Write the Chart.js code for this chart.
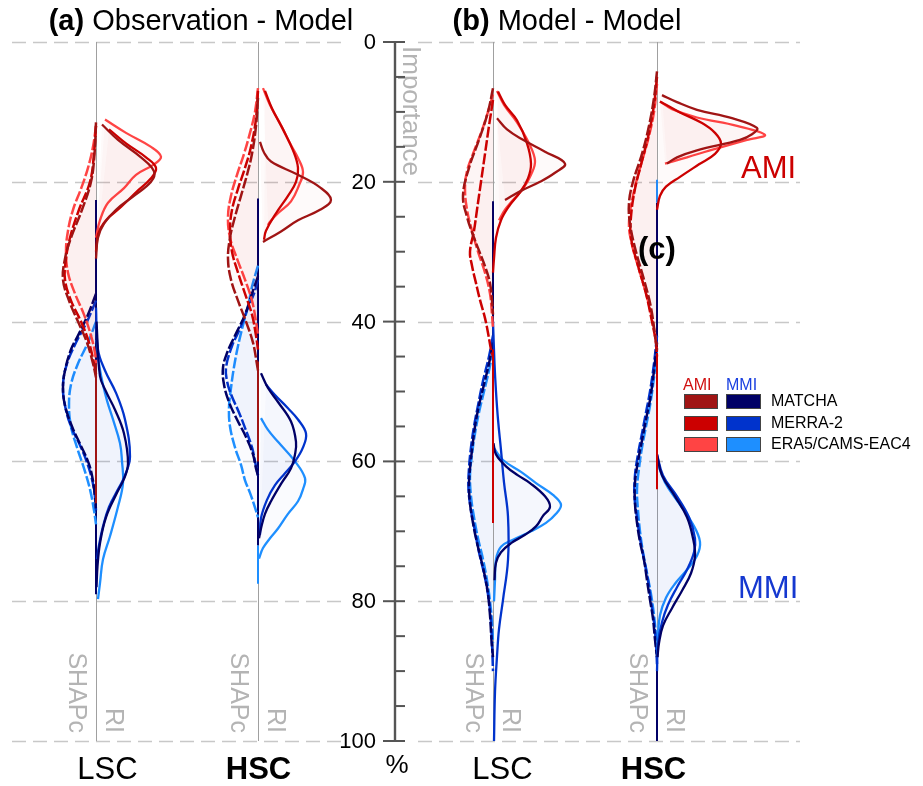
<!DOCTYPE html>
<html><head><meta charset="utf-8">
<script src="https://cdn.jsdelivr.net/npm/chart.js@4.4.1/dist/chart.umd.min.js"></script>
<style>html,body{margin:0;padding:0;background:#fff}#wrap{width:923px;height:786px;position:relative}</style>
</head><body><div id="wrap"><canvas id="c"></canvas></div>
<script>
// ---------------- data ----------------
const models = ['MATCHA', 'MERRA-2', 'ERA5/CAMS-EAC4'];
const columnLabels = ['LSC', 'HSC', 'LSC', 'HSC'];
const columnBold = [false, true, false, true];
const columnX = [96, 258, 493, 657];
const yTicks = [0, 20, 40, 60, 80, 100];
const yMinorTicks = [5,10,15,25,30,35,45,50,55,65,70,75,85,90,95];

// curves: [importance %, half-width] for MATCHA, MERRA-2, ERA5/CAMS-EAC4
const aLSC_AMI_RI = [
  [[11.8,6],[14,22],[16.5,45],[18.5,58],[20,55],[22,38],[24,20],[26,8],[28,2],[31,0]],
  [[12.5,13],[14.5,30],[16.5,50],[18,60],[19.5,55],[21.5,40],[23.6,25],[25.5,10],[27.5,2],[30,0]],
  [[11.1,9],[13,30],[15,55],[16.4,65],[17.5,58],[19,40],[20.9,28],[23,12],[25.5,4],[28,0]]
];
const aLSC_AMI_SHAPc = [
  [[11.5,0],[16,1.5],[20,5],[24,14],[28,25],[31,31],[34,33],[37,27],[40,18],[43,9],[46,3],[48,0]],
  [[12,0],[16,2],[20,6],[24,17],[28,26],[31,30],[34,31],[37,25],[40,15],[43,7],[46,2],[47.5,0]],
  [[12,0],[15,3],[18,8],[21,15],[24,23],[27,28],[30,30],[33,28],[36,21],[39,12],[42,5],[44.5,1],[46,0]]
];
const aLSC_MMI_SHAPc = [
  [[36,0],[39,8],[42,18],[44,25],[47,31],[49.5,33],[52,31],[55,24],[57.5,16],[60,8],[62,4],[65,1],[67,0]],
  [[37,0],[40,9],[43,20],[46,29],[49,33],[52,31],[55,25],[58,15],[61,7],[64,2],[67,0]],
  [[40,0],[43,8],[46,18],[49,25],[52,27],[55,25],[58,19],[61,12],[64,6],[67,2],[69,0]]
];
const aLSC_MMI_RI = [
  [[40,0.5],[47.8,4],[50,10],[52.6,19],[56,28],[60.3,32],[62.5,28],[64.5,21],[68,10],[71.7,4],[75,1.5],[78,0.5]],
  [[38,0],[44,2],[47,9],[50.2,20],[54,29],[59.3,34],[62,29],[64,22],[66.5,13],[69.3,7],[72,3],[74,1]],
  [[42.6,0.7],[46,3],[49,7],[51.3,11],[54,17],[57.4,24],[60,26],[63.1,27],[66.5,22],[70.7,14],[74,7],[77.4,4],[79.7,2]]
];
const aHSC_AMI_RI = [
  [[14.3,2],[15.8,6],[17.1,13],[19,40],[20.8,62],[22.6,73],[24,62],[25.5,40],[27.1,23],[28.6,5]],
  [[7,7],[9.5,14],[12.5,25],[15.5,35],[18,40],[20,38],[22,30],[24.5,18],[27,8],[28.3,6]],
  [[6.6,5],[9,12],[11.9,23],[14.5,32],[16.6,40],[18.6,45],[20.5,41],[22.8,33],[24.5,20],[25.7,12],[26.2,10]]
];
const aHSC_AMI_SHAPc = [
  [[8,0],[12,2],[16,6],[19,11],[22,17],[25,23],[28,28],[31,30],[34,27],[37,20],[40,12],[43,5],[45.7,1.5],[47,0]],
  [[7,0],[11,2],[15,7],[18,13],[21,20],[24,26],[27,28],[30,26],[33,20],[36,13],[39,6],[42,2],[44,0]],
  [[6.6,0],[10,3],[13,8],[16,14],[19,21],[22,27],[25,30],[28,28],[31,21],[34,13],[37,6],[40,2],[42,0]]
];
const aHSC_MMI_SHAPc = [
  [[33.5,0],[36,6],[39,13],[42,23],[44.5,31],[46.6,35],[49,34],[51.5,29],[54,21],[56.5,12],[59,5],[61,2],[62,0]],
  [[34,0],[36,4],[38,10],[41,18],[43.5,26],[46.6,32],[48.5,31],[50.4,27],[53,19],[55.2,13],[58,6],[60,3],[62,0]],
  [[32,0],[35,6],[37.8,10],[40.5,15],[43.5,20],[46.5,24],[49.5,27],[52.3,29],[55,28],[58,23],[60.5,17],[62.7,13],[64.5,8],[66.6,3],[68,0]]
];
const aHSC_MMI_RI = [
  [[47.4,3],[49.5,10],[51.5,20],[54.3,33],[57.2,38],[59,37],[61,33],[63,24],[65.7,13],[67.5,7],[69.6,3],[71,1]],
  [[49,8],[50.5,17],[52.4,30],[54,40],[56,48],[58,45],[60,37],[61.7,27],[63.4,17],[65.5,9],[68.1,3],[70.5,2]],
  [[53.8,3],[55.5,10],[57.2,20],[60,37],[62.4,47],[64,45],[65.7,40],[67.5,30],[69.6,20],[71,12],[72.4,5],[73.9,1]]
];
const bLSC_AMI_RI = [
  [[10.9,4],[12.5,14],[14,30],[15.7,52],[17.4,72],[18.7,62],[20,47],[21.3,28],[22.6,12]],
  [[7.1,5],[9,12],[11.2,24],[14.5,34],[17.4,38],[19.5,35],[21.5,27],[23.5,16],[25.5,8],[28,3],[31,1],[33,0]],
  [[7,4],[9,11],[11.5,24],[14.5,36],[17,42],[19,38],[21,30],[22.6,20],[24,12],[25.5,6]]
];
const bLSC_AMI_SHAPc = [
  [[6.6,0],[10,5],[14,14],[18,24],[22,30],[25,26],[28,19],[30.2,13],[32.5,7],[34.5,3],[37,1],[39,0]],
  [[8.3,0],[12,4],[16,8],[20,12],[24,16],[27,19],[30,23],[32,21],[34.5,17],[36.9,13],[39.5,8],[42,4.5],[44,2],[45,0]],
  [[7.5,0],[10,5],[13,12],[16,20],[18.5,26],[21,28],[24,26],[27,21],[30,15],[33,8],[36,3],[39,1],[41,0]]
];
const bLSC_MMI_SHAPc = [
  [[43,0],[46,4],[49,9],[52,14],[55,18],[58.4,21],[61,23],[63.5,24],[66,23],[68,21],[71,17],[74,12],[76.5,8],[79,5],[82,3],[85.6,1.5],[88,0]],
  [[42,0],[45,4],[48.5,10],[52,15],[55,19],[58,22],[61,24],[64,24.5],[67,22],[70,18],[73,14],[76,9],[79,5],[82,2.5],[86,1],[90,0]],
  [[44,0],[47,4],[50,9],[53,14],[56,18],[59,21],[62,23],[65,22],[68,19],[71,15],[74,10],[77,6],[80,3],[83,1],[86,0]]
];
const bLSC_MMI_RI = [
  [[57.4,0.5],[59,3],[60.7,13],[62,25],[63.1,37],[65,52],[66.5,57],[67.8,50],[69.3,43],[70.5,32],[71.7,18],[73,8],[74.5,3],[77,1.5]],
  [[40,0],[46,1.5],[50,3],[54,5],[58.4,8],[63,11],[67.9,15],[74.1,15],[79.8,10],[84,6],[87.9,4],[93,2],[100,1]],
  [[58,0.5],[59.8,10],[61.5,28],[63.1,43],[64.8,60],[66.2,68],[67.5,63],[68.8,53],[70,38],[71.2,20],[72.2,8],[74,3],[77,2],[80,1]]
];
const bHSC_AMI_RI = [
  [[7.6,5],[8.6,20],[9.7,40],[10.9,75],[12.3,100],[13.2,95],[14,83],[15.5,40],[16.5,20],[17.4,10]],
  [[8.5,3],[10,22],[11.6,45],[13,58],[14.5,64],[16,58],[17.5,42],[19.3,23],[20.7,9],[22,3],[24,0]],
  [[8.5,3],[9.6,15],[10.8,40],[12,80],[13.3,108],[14,90],[15.5,53],[16.5,30],[17.4,8]]
];
const bHSC_AMI_SHAPc = [
  [[4.2,0],[8,3],[12,8],[16,15],[20,24],[23,28],[26,27],[30,21],[34,13],[38,6],[42,2],[44,0]],
  [[5,0],[9,3],[13,8],[17,15],[21,22],[25,26],[28,26],[32,19],[36,11],[40,5],[43,1],[45,0]],
  [[6,0],[10,3],[14,9],[18,17],[22,24],[26,28],[29,25],[33,17],[37,9],[41,3],[44,0]]
];
const bHSC_MMI_SHAPc = [
  [[43,0],[47,3],[51.2,7],[54,11],[57,15],[60,19],[63,22],[66,22],[68.8,20],[71.5,17],[74.1,13],[77,10],[79.8,7],[82.5,4],[85.5,2],[88,0]],
  [[42,0],[46,3],[50,7],[53,11],[56,15],[59,19],[62,22],[65,22.5],[68,20],[71,17],[74,13],[77,9],[80,6],[83,3],[86,1],[89,0]],
  [[44,0],[48,3],[52,7],[55,11],[58,15],[61,18],[64,20],[67,19],[70,17],[73,14],[76,10],[79,6],[82,3],[85,1],[87,0]]
];
const bHSC_MMI_RI = [
  [[59,0],[62,5],[65,18],[68,30],[71,36],[73.5,38],[76,34],[78.5,25],[81,15],[83.5,6],[86,2],[88,0.5]],
  [[59,0],[62,6],[65,20],[68,32],[71,38],[73,37],[75.5,30],[78,20],[80.5,11],[83,5],[86,1],[90,0]],
  [[60,0],[63,8],[66,22],[69,36],[71.5,43],[73.5,40],[75.5,30],[77.5,18],[79.5,9],[82,3],[85,1],[88,0]]
];
// thin stems along the column axis: [column, class, model, from %, to %]
const stems = [
  [0,'MMI',0,22.6,79],[0,'AMI',0,46,66],
  [1,'MMI',0,22.4,72],[1,'MMI',2,72,77.5],[1,'AMI',0,45.7,60],
  [2,'MMI',0,22.8,58],[2,'AMI',1,44,68.8],
  [3,'MMI',2,19.7,23],[3,'MMI',0,23,44],[3,'AMI',1,44.5,64],[3,'MMI',0,86,100]
];

// ---------------- styling ----------------
const colors = {
  AMI: ['#A01414', '#CC0000', '#FF4444'],
  MMI: ['#000066', '#0033CC', '#1E8FFF']
};
const fills = { AMI: 'rgba(215,40,40,0.022)', MMI: 'rgba(40,70,210,0.022)' };
const FONT = "'Liberation Sans', Arial, Helvetica, sans-serif";

const violins = [
  [0,'AMI','RI',aLSC_AMI_RI],[0,'AMI','SHAPc',aLSC_AMI_SHAPc],[0,'MMI','RI',aLSC_MMI_RI],[0,'MMI','SHAPc',aLSC_MMI_SHAPc],
  [1,'AMI','RI',aHSC_AMI_RI],[1,'AMI','SHAPc',aHSC_AMI_SHAPc],[1,'MMI','RI',aHSC_MMI_RI],[1,'MMI','SHAPc',aHSC_MMI_SHAPc],
  [2,'AMI','RI',bLSC_AMI_RI],[2,'AMI','SHAPc',bLSC_AMI_SHAPc],[2,'MMI','RI',bLSC_MMI_RI],[2,'MMI','SHAPc',bLSC_MMI_SHAPc],
  [3,'AMI','RI',bHSC_AMI_RI],[3,'AMI','SHAPc',bHSC_AMI_SHAPc],[3,'MMI','RI',bHSC_MMI_RI],[3,'MMI','SHAPc',bHSC_MMI_SHAPc]
];

const datasets = [];
for (const [col, cls, side, curves] of violins) {
  curves.forEach((curve, m) => {
    const sign = side === 'RI' ? 1 : -1;
    datasets.push({
      data: curve.map(([imp, w]) => ({ x: columnX[col] + sign * w, y: imp })),
      borderColor: colors[cls][m],
      backgroundColor: fills[cls],
      fill: 'shape',
      borderWidth: side === 'RI' ? 2.3 : 2.5,
      borderDash: side === 'RI' ? [] : [11, 2.5],
      tension: 0.4,
      pointRadius: 0,
      order: cls === 'MMI' ? 15 : 10
    });
  });
}
for (const [col, cls, m, from, to] of stems) {
  datasets.push({
    data: [{ x: columnX[col], y: from }, { x: columnX[col], y: to }],
    borderColor: colors[cls][m], borderWidth: 2, pointRadius: 0, fill: false,
    order: cls === 'MMI' ? 20 : 5
  });
}

// ---------------- decorations ----------------
const panelSpans = [[12, 343], [418, 800]];
const axisX = 395;

function richText(ctx, parts, cx, base) {
  let total = 0;
  for (const p of parts) { ctx.font = p.font; total += ctx.measureText(p.t).width; }
  let x = cx - total / 2;
  for (const p of parts) {
    ctx.font = p.font; ctx.fillStyle = p.color || '#000';
    ctx.textAlign = 'left'; ctx.textBaseline = 'alphabetic';
    ctx.fillText(p.t, x, base); x += ctx.measureText(p.t).width;
  }
}
function rotText(ctx, t, x, y, font, color, align) {
  ctx.save(); ctx.translate(x, y); ctx.rotate(Math.PI / 2);
  ctx.font = font; ctx.fillStyle = color; ctx.textAlign = align; ctx.textBaseline = 'alphabetic';
  ctx.fillText(t, 0, 0); ctx.restore();
}

const decor = {
  id: 'decor',
  beforeDatasetsDraw(chart) {
    const { ctx, scales: { x, y } } = chart;
    ctx.save();
    // dashed gridlines
    ctx.strokeStyle = '#c8c8c8'; ctx.lineWidth = 1.6; ctx.setLineDash([14, 7]);
    for (const t of yTicks) {
      const py = Math.round(y.getPixelForValue(t)) + 0.5;
      for (const [a, b] of panelSpans) {
        ctx.beginPath(); ctx.moveTo(x.getPixelForValue(a), py); ctx.lineTo(x.getPixelForValue(b), py); ctx.stroke();
      }
    }
    ctx.setLineDash([]);
    // column axes
    ctx.strokeStyle = '#a0a0a0'; ctx.lineWidth = 1;
    for (const cx of columnX) {
      const px = Math.round(x.getPixelForValue(cx)) + 0.5;
      ctx.beginPath(); ctx.moveTo(px, y.getPixelForValue(0)); ctx.lineTo(px, y.getPixelForValue(100)); ctx.stroke();
    }
    // SHAPc / RI labels
    const lf = '25px ' + FONT;
    for (const cx of columnX) {
      const px = x.getPixelForValue(cx);
      rotText(ctx, 'SHAPc', px - 27, 733, lf, '#b4b4b4', 'right');
      rotText(ctx, 'RI', px + 10, 733, lf, '#b4b4b4', 'right');
    }
    rotText(ctx, 'Importance', axisX + 8, 46, '26px ' + FONT, '#b4b4b4', 'left');
    ctx.restore();
  },
  afterDraw(chart) {
    const { ctx, scales: { x, y } } = chart;
    ctx.save();
    // central axis
    const ax = x.getPixelForValue(axisX);
    ctx.strokeStyle = '#555'; ctx.lineWidth = 2.4;
    ctx.beginPath(); ctx.moveTo(ax, y.getPixelForValue(0)); ctx.lineTo(ax, y.getPixelForValue(100)); ctx.stroke();
    ctx.lineWidth = 2;
    for (const t of yTicks) {
      const py = y.getPixelForValue(t);
      ctx.beginPath(); ctx.moveTo(ax - 12, py); ctx.lineTo(ax + 10, py); ctx.stroke();
    }
    for (const t of yMinorTicks) {
      const py = y.getPixelForValue(t);
      ctx.beginPath(); ctx.moveTo(ax, py); ctx.lineTo(ax + 10, py); ctx.stroke();
    }
    ctx.fillStyle = '#000'; ctx.font = '22px ' + FONT; ctx.textAlign = 'right'; ctx.textBaseline = 'middle';
    for (const t of yTicks) ctx.fillText(String(t), ax - 19, y.getPixelForValue(t) + 1);
    ctx.textAlign = 'center'; ctx.textBaseline = 'alphabetic'; ctx.font = '26px ' + FONT;
    ctx.fillText('%', ax + 2, 773);
    // titles
    richText(ctx, [{ t: '(a)', font: 'bold 29px ' + FONT }, { t: ' Observation - Model', font: '29px ' + FONT }], 201, 30);
    richText(ctx, [{ t: '(b)', font: 'bold 29px ' + FONT }, { t: ' Model - Model', font: '29px ' + FONT }], 567, 30);
    // column labels
    const labelX = [107.5, 258.5, 502.5, 653.5];
    columnLabels.forEach((l, i) => {
      ctx.font = (columnBold[i] ? 'bold ' : '') + '31px ' + FONT;
      ctx.fillStyle = '#000'; ctx.textAlign = 'center';
      ctx.fillText(l, labelX[i], 779);
    });
    // AMI / MMI big labels
    ctx.textAlign = 'left'; ctx.font = '31px ' + FONT;
    ctx.fillStyle = '#CC0000'; ctx.fillText('AMI', 741, 178);
    ctx.fillStyle = '#1538D0'; ctx.fillText('MMI', 738, 598);
    ctx.fillStyle = '#000'; ctx.font = 'bold 31px ' + FONT; ctx.fillText('(c)', 638, 259);
    // legend
    ctx.font = '16px ' + FONT;
    ctx.fillStyle = '#D01010'; ctx.fillText('AMI', 683, 390);
    ctx.fillStyle = '#1A40E0'; ctx.fillText('MMI', 726, 390);
    const rowsY = [394, 416, 437];
    models.forEach((m, i) => {
      ctx.fillStyle = colors.AMI[i]; ctx.fillRect(684, rowsY[i], 34, 15);
      ctx.strokeStyle = '#444'; ctx.lineWidth = 1; ctx.strokeRect(684.5, rowsY[i] + 0.5, 33, 14);
      ctx.fillStyle = colors.MMI[i]; ctx.fillRect(726, rowsY[i], 35, 15);
      ctx.strokeRect(726.5, rowsY[i] + 0.5, 34, 14);
      ctx.fillStyle = '#000'; ctx.textBaseline = 'middle'; ctx.fillText(m, 771, rowsY[i] + 8);
      ctx.textBaseline = 'alphabetic';
    });
    ctx.restore();
  }
};

new Chart(document.getElementById('c'), {
  type: 'line',
  data: { datasets },
  options: {
    animation: false, responsive: true, maintainAspectRatio: false, devicePixelRatio: 1,
    layout: { padding: { top: 42, bottom: 45, left: 0, right: 0 } },
    scales: {
      x: { type: 'linear', min: 0, max: 923, display: false },
      y: { type: 'linear', min: 0, max: 100, reverse: true, display: false }
    },
    plugins: { legend: { display: false }, tooltip: { enabled: false } },
    events: []
  },
  plugins: [decor]
});
</script></body></html>
